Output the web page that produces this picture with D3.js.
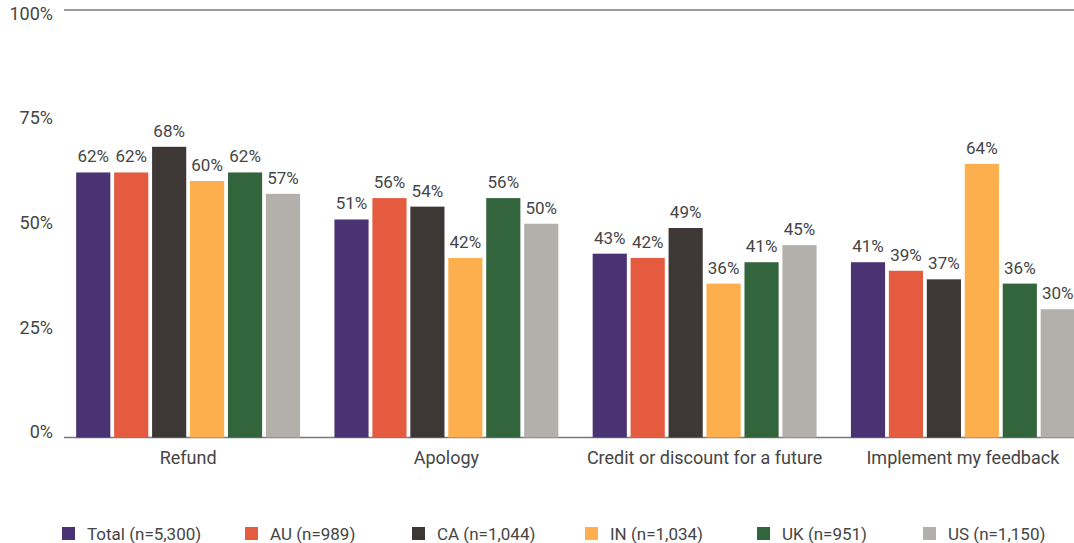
<!DOCTYPE html>
<html>
<head>
<meta charset="utf-8">
<script src="https://cdn.jsdelivr.net/npm/d3@7"></script>
<style>
  html, body { margin: 0; padding: 0; background: #fff; }
  svg { display: block; font-family: Roboto, "Noto Sans", sans-serif; }
</style>
</head>
<body>
<svg id="chart" width="1074" height="543"></svg>
<script>
// Response categories and survey groups
const categories = ["Refund", "Apology", "Credit or discount for a future", "Implement my feedback"];
const seriesNames = ["Total (n=5,300)", "AU (n=989)", "CA (n=1,044)", "IN (n=1,034)", "UK (n=951)", "US (n=1,150)"];
const seriesColors = ["#4a3373", "#e45b40", "#3d3835", "#fdae4d", "#33653d", "#b3afab"];

// Share of respondents (%) per category, one array per group
const totalValues = [62, 51, 43, 41];
const auValues = [62, 56, 42, 39];
const caValues = [68, 54, 49, 37];
const inValues = [60, 42, 36, 64];
const ukValues = [62, 56, 41, 36];
const usValues = [57, 50, 45, 30];

const yTicks = [0, 25, 50, 75, 100];

const seriesValues = [totalValues, auValues, caValues, inValues, ukValues, usValues];

const svg = d3.select("#chart");
const textColor = "#454545";

const plotLeft = 64, plotRight = 1074;
const y = d3.scaleLinear().domain([0, 100]).range([437.5, 10]);
// tick labels sit on a slightly tighter spacing than the bars
const yLabel = d3.scaleLinear().domain([0, 100]).range([432, 13.5]);

const x0 = d3.scaleBand().domain(categories).range([59, 1092])
  .paddingInner(0.133).paddingOuter(0.0665);
const x1 = d3.scaleBand().domain(seriesNames).range([0, x0.bandwidth()])
  .paddingInner(0.1).paddingOuter(0);

// top line at 100% and baseline at 0%
svg.append("g").selectAll("line")
  .data([100, 0])
  .join("line")
  .attr("x1", plotLeft).attr("x2", plotRight)
  .attr("y1", d => y(d)).attr("y2", d => y(d))
  .attr("stroke", "#7a7a7a").attr("stroke-width", 1.3);

// y tick labels
svg.append("g").selectAll("text")
  .data(yTicks)
  .join("text")
  .attr("x", 53)
  .attr("y", d => yLabel(d))
  .attr("dy", "0.35em")
  .attr("text-anchor", "end")
  .attr("font-size", 18)
  .attr("fill", textColor)
  .text(d => d + "%");

// bars per category
const groups = svg.append("g").selectAll("g")
  .data(categories)
  .join("g")
  .attr("transform", c => `translate(${x0(c)},0)`);

const cells = groups.selectAll("g")
  .data((c, ci) => seriesNames.map((s, si) => ({ s, si, v: seriesValues[si][ci] })))
  .join("g");

cells.append("rect")
  .attr("x", d => x1(d.s))
  .attr("y", d => y(d.v))
  .attr("width", x1.bandwidth())
  .attr("height", d => y(0) - y(d.v))
  .attr("fill", d => seriesColors[d.si]);

cells.append("text")
  .attr("x", d => x1(d.s) + x1.bandwidth() / 2)
  .attr("y", d => y(d.v) - 10)
  .attr("text-anchor", "middle")
  .attr("font-size", 17)
  .attr("fill", textColor)
  .text(d => d.v + "%");

// category labels
svg.append("g").selectAll("text")
  .data(categories)
  .join("text")
  .attr("x", c => x0(c) + x0.bandwidth() / 2)
  .attr("y", 464)
  .attr("text-anchor", "middle")
  .attr("font-size", 18)
  .attr("fill", textColor)
  .text(c => c);

// legend
const legendX = [62, 245, 412, 585, 757, 923];
const legend = svg.append("g").selectAll("g")
  .data(seriesNames)
  .join("g")
  .attr("transform", (s, i) => `translate(${legendX[i]},527)`);

legend.append("rect")
  .attr("width", 13).attr("height", 13)
  .attr("fill", (s, i) => seriesColors[i]);

legend.append("text")
  .attr("x", 25)
  .attr("y", 7)
  .attr("dy", "0.35em")
  .attr("font-size", 17)
  .attr("fill", textColor)
  .text(s => s);
</script>
</body>
</html>
